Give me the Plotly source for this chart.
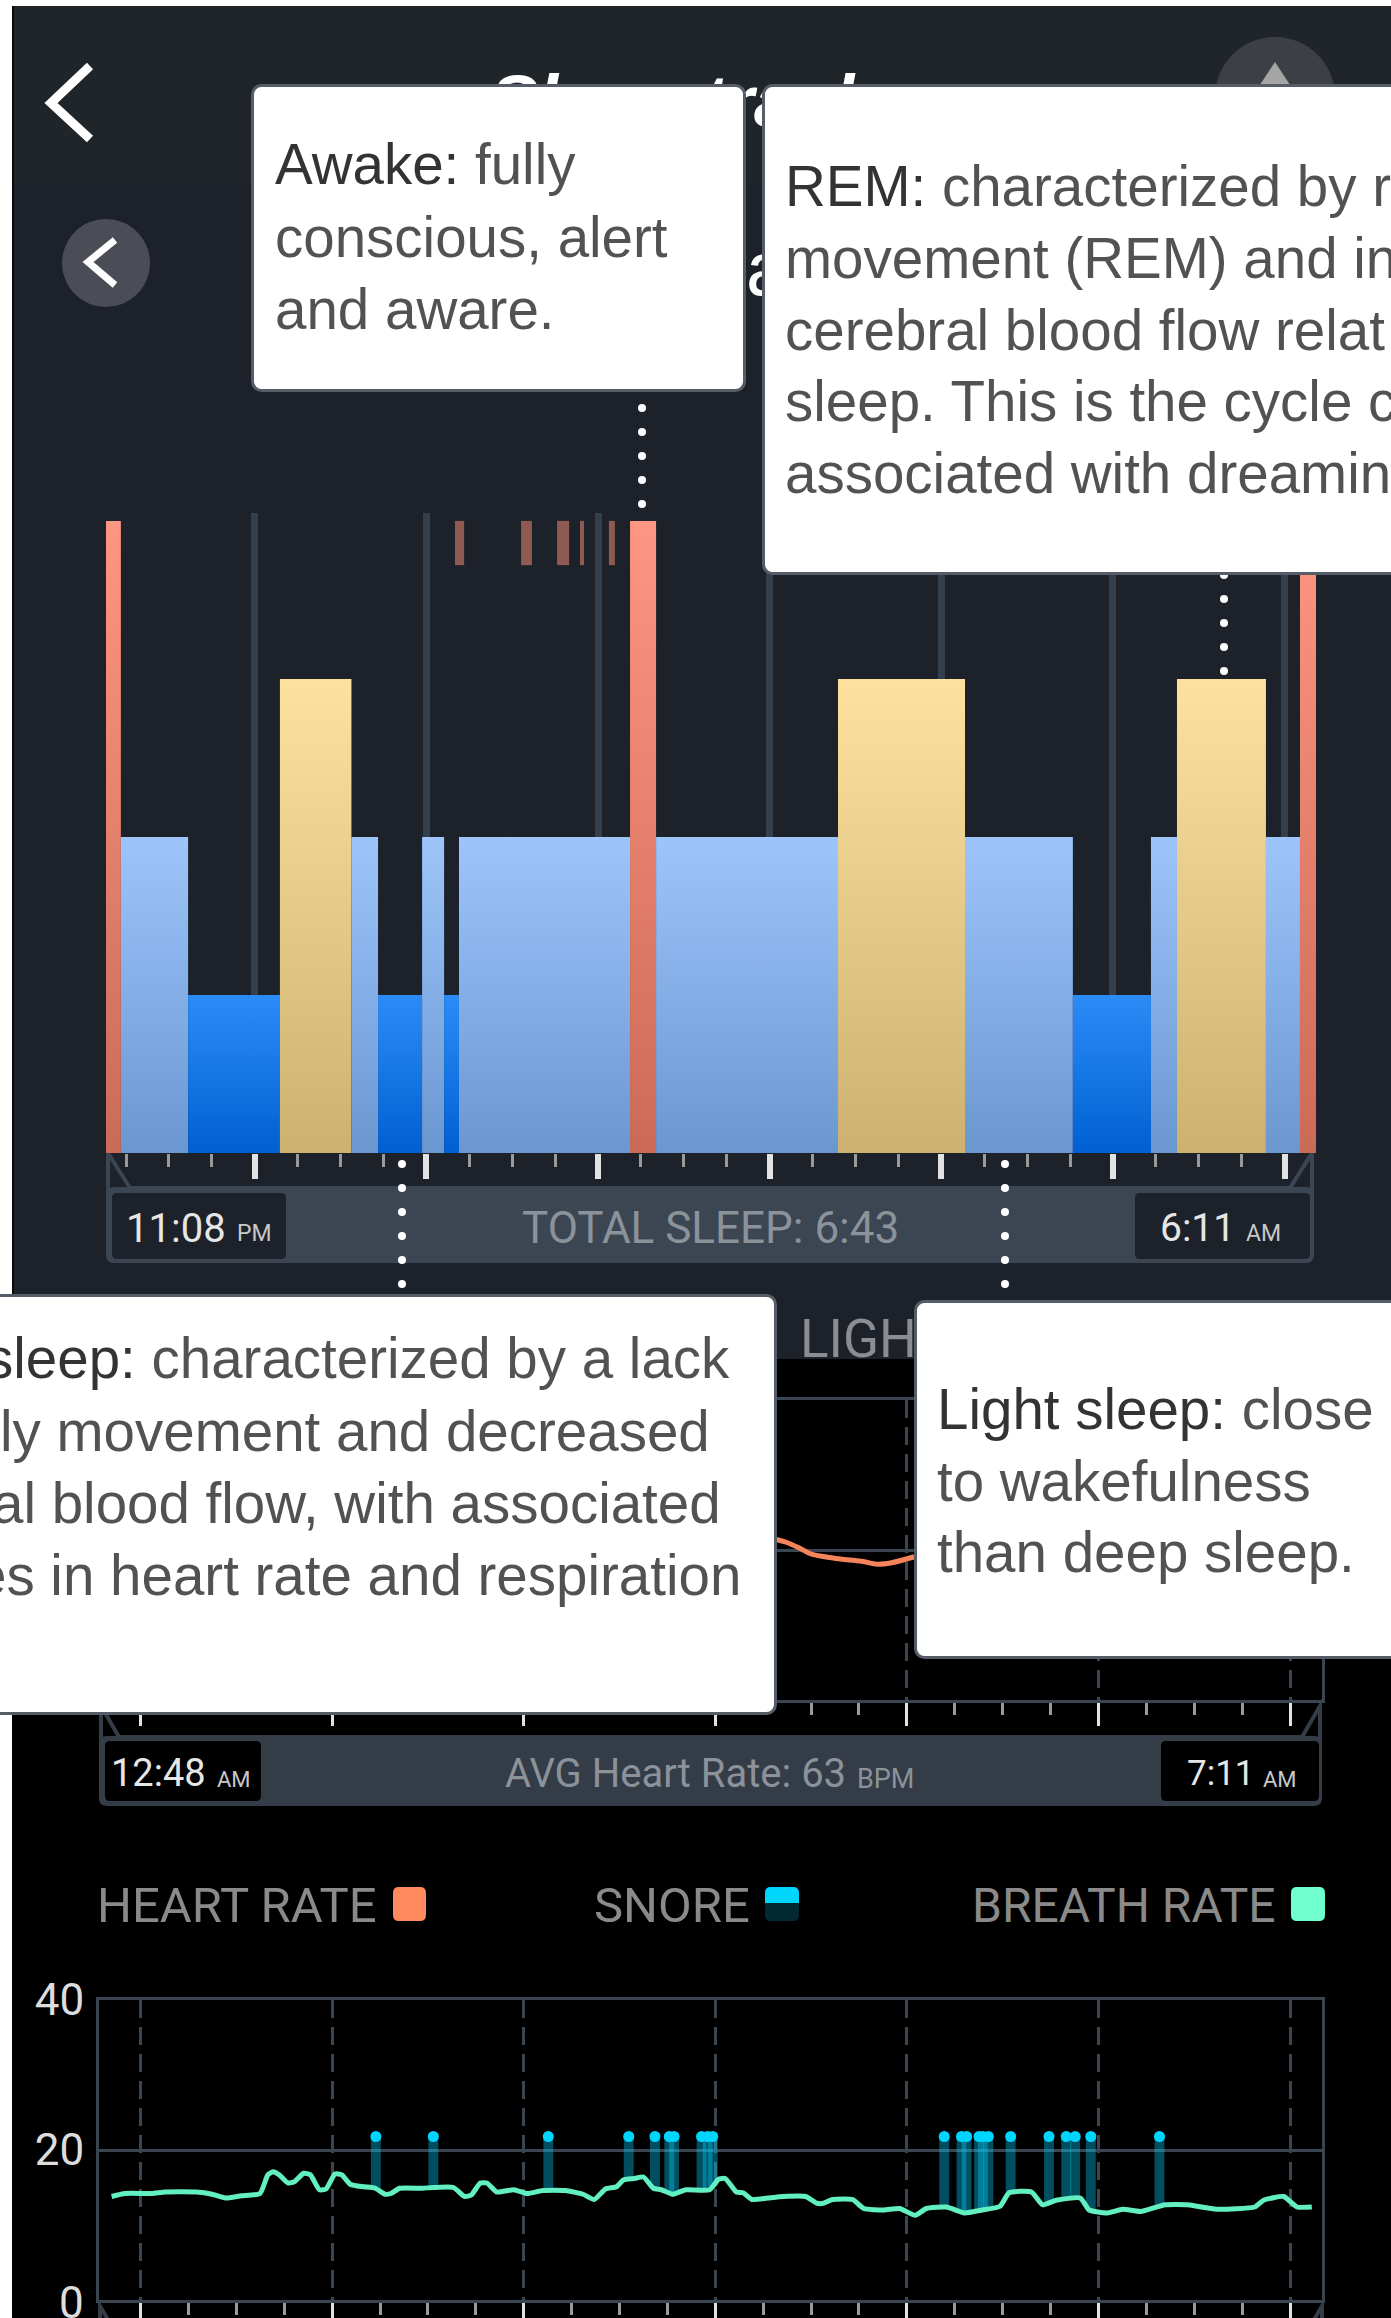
import numpy as np
import plotly.graph_objects as go

W, H = 1391, 2318

# ---------- DATA ----------
STAGE_LEVEL = {"Deep": 1, "Light": 2, "REM": 3, "Awake": 4}
sleep_stage = ["Awake", "Light", "Deep", "REM", "Light", "Deep", "Light", "Deep", "Light", "Awake",
               "Light", "REM", "Light", "Deep", "Light", "REM", "Light", "Awake"]
sleep_start = [0, 5.2, 28.7, 60.8, 85.8, 95.1, 110.5, 118.2, 123.4, 183.2,
               192.3, 255.9, 300.3, 338.0, 365.3, 374.4, 405.5, 417.4]
sleep_end = [5.2, 28.7, 60.8, 85.8, 95.1, 110.5, 118.2, 123.4, 183.2, 192.3,
             255.9, 300.3, 338.0, 365.3, 374.4, 405.5, 417.4, 423.0]
restless_start = [122.0, 145.1, 157.7, 165.7, 175.8]
restless_end = [125.2, 148.9, 161.9, 167.1, 177.9]
restless_low = [3.72, 3.72, 3.72, 3.72, 3.72]
restless_high = [4, 4, 4, 4, 4]
stage_top_colors = {"Deep": "#2b8cf8", "Light": "#9dc5fb", "REM": "#fde29f", "Awake": "#fd9682"}
stage_bottom_colors = {"Deep": "#0060d2", "Light": "#6b97d1", "REM": "#ccb26e", "Awake": "#cc6a58"}

heart_time = [211, 215.4, 219.6, 222.8, 227.3, 232.2, 238.8, 243.9, 248.2, 255.3]
heart_bpm = [61.5, 61.0, 60.2, 59.5, 59.1, 58.8, 58.5, 58.1, 58.3, 59.1]

breath_time = [3.95, 8.15, 16.5, 20.7, 30.5, 35.4, 39.6, 44.5, 50.4, 52.9, 54.6, 56.4, 59.2, 61.3, 64.1,
               66.2, 69.0, 71.1, 73.9, 76.0, 78.8, 83.0, 86.5, 89.6, 91.4, 94.2, 101.2, 104.7, 111.0,
               114.5, 116.6, 119.4, 121.5, 124.6, 129.9, 134.1, 139.0, 146.0, 151.6, 155.1, 158.6,
               162.1, 164.2, 167.7, 170.5, 173.6, 176.1, 179.6, 183.8, 191.2, 194.0, 196.1, 199.6,
               201.7, 204.5, 209.4, 214.3, 221.3, 224.8, 226.9, 229.7, 236.0, 239.5, 245.8, 250.7,
               255.6, 259.1, 265.4, 271.0, 276.6, 282.2, 285.0, 292.0, 295.5, 299.7, 307.3, 310.1,
               315.7, 320.6, 326.2, 333.9, 340.9, 350.0, 361.9, 364.7, 371.0, 375.2, 379.8]
breath_rate = [13.8, 14.2, 14.2, 14.4, 14.4, 14.1, 13.6, 13.9, 14.2, 16.7, 17.1, 16.7, 15.6, 15.8, 16.9,
               16.7, 14.7, 14.8, 16.8, 16.7, 15.4, 15.1, 14.9, 14.1, 14.2, 14.9, 14.9, 15.0, 15.0,
               13.8, 14.0, 15.6, 15.6, 14.4, 14.7, 14.2, 14.6, 14.6, 14.1, 13.4, 14.8,
               15.1, 16.0, 16.2, 16.4, 14.9, 14.7, 14.1, 14.7, 14.7, 16.1, 16.2, 14.4,
               14.3, 13.4, 13.6, 13.8, 13.8, 12.9, 12.9, 13.4, 13.4, 12.2, 12.0, 12.2,
               11.3, 12.2, 12.4, 11.6, 12.0, 12.5, 14.3, 14.4, 12.7, 13.3, 13.6, 12.0,
               11.6, 12.1, 11.8, 12.7, 12.7, 12.1, 12.4, 13.3, 13.8, 12.4, 12.4]
snore_time = [86.7, 104.7, 140.7, 165.9, 174.1, 178.6, 180.1, 188.7, 190.6, 192.2, 264.7, 270.1, 271.7,
              275.6, 276.8, 278.5, 285.5, 297.5, 302.9, 305.7, 310.6, 332.1]
snore_top = [21.8] * len(snore_time)

heart_yticks = [40, 60, 80]
heart_ylabels = ["40", "", ""]
breath_yticks = [0, 20, 40]
breath_ylabels = ["", "20", "40"]

# ---------- HELPERS ----------
GRID = "#3a4552"
FONT = "Roboto"
BOXFONT = "Liberation Sans"
px = lambda x: x / W
py = lambda y: 1 - y / H
shapes, anns = [], []


def rect(x0, y0, x1, y1, color, layer="below"):
    shapes.append(dict(type="rect", xref="paper", yref="paper", x0=px(x0), x1=px(x1), y0=py(y1), y1=py(y0),
                       fillcolor=color, line_width=0, layer=layer))


def rrect(x0, y0, x1, y1, r, color, layer="below"):
    X = lambda v: f"{px(v):.6f}"
    Y = lambda v: f"{py(v):.6f}"
    p = (f"M{X(x0+r)},{Y(y0)} L{X(x1-r)},{Y(y0)} Q{X(x1)},{Y(y0)} {X(x1)},{Y(y0+r)} L{X(x1)},{Y(y1-r)} "
         f"Q{X(x1)},{Y(y1)} {X(x1-r)},{Y(y1)} L{X(x0+r)},{Y(y1)} Q{X(x0)},{Y(y1)} {X(x0)},{Y(y1-r)} "
         f"L{X(x0)},{Y(y0+r)} Q{X(x0)},{Y(y0)} {X(x0+r)},{Y(y0)} Z")
    shapes.append(dict(type="path", xref="paper", yref="paper", path=p, fillcolor=color, line_width=0, layer=layer))


def poly(points, fill=None, line=None, width=0, layer="below", close=True):
    p = "M" + " L".join(f"{px(a):.6f},{py(b):.6f}" for a, b in points) + (" Z" if close else "")
    shapes.append(dict(type="path", xref="paper", yref="paper", path=p,
                       fillcolor=fill if fill else "rgba(0,0,0,0)",
                       line=dict(color=line if line else "rgba(0,0,0,0)", width=width), layer=layer))


def circle(cx, cy, rx, ry, color, layer="below"):
    shapes.append(dict(type="circle", xref="paper", yref="paper", x0=px(cx - rx), x1=px(cx + rx),
                       y0=py(cy + ry), y1=py(cy - ry), fillcolor=color, line_width=0, layer=layer))


def text(x, y, s, size, color, anchor="left", font=FONT, **kw):
    anns.append(dict(xref="paper", yref="paper", x=px(x), y=py(y), text=s, showarrow=False, xanchor=anchor,
                     yanchor="middle", align=anchor, font=dict(family=font, size=size, color=color), **kw))


def box(x0, y0, x1, y1):
    anns.append(dict(xref="paper", yref="paper", x=px(x0), y=py(y0), text=" ", showarrow=False, xanchor="left",
                     yanchor="top", width=x1 - x0 - 3, height=y1 - y0 - 3, bgcolor="#ffffff", bordercolor="#565d68",
                     borderwidth=3, borderpad=0, font=dict(size=10)))


stroke_w = 4


def footer(x0, x1, notch, y_axis, y_panel, y_bottom, color, stroke):
    rrect(x0, y_panel, x1, y_bottom, 8, color)
    poly([(x0 + 2, y_bottom - 8), (x0 + 2, y_axis), (x0 + notch, y_panel + 1), (x1 - notch, y_panel + 1),
          (x1 - 2, y_axis), (x1 - 2, y_bottom - 8)], line=stroke, width=stroke_w, close=False)


# ---------- BACKGROUND ----------
rect(12, 6, W, 1359, "#1d2129")
rect(12, 6, W, 184, "#20252a")
rect(12, 1359, W, H, "#000000")
rect(12, 6, 14, 1359, "#08090b")

# header icons
poly([(90, 66), (51, 103), (90, 139)], line="#ffffff", width=9, close=False)
circle(106, 263, 44, 44, "#4a4d55")
poly([(115, 240), (88, 262), (115, 285)], line="#ffffff", width=7, close=False)
circle(1275, 97, 60, 60, "#3c3f44")
poly([(1275, 62), (1250, 100), (1300, 100)], fill="#a5a5a5")

# footers behind the time axes
footer(106, 1314, 24, 1153, 1187, 1263, "#3c4652", "#3c4652")
rrect(112, 1193, 286, 1259, 5, "#1d2129")
rrect(1135, 1193, 1310, 1259, 5, "#1d2129")
footer(99, 1322, 20, 1706, 1736, 1806, "#343c47", "#343c47")
rrect(105, 1741, 261, 1801, 5, "#000000")
rrect(1161, 1741, 1319, 1801, 5, "#000000")
footer(98, 1324, 20, 2306, 2336, 2400, "#343c47", "#343c47")

# legend swatches
rrect(393, 1887, 426, 1921, 6, "#ff8a5e")
rrect(765, 1887, 799, 1921, 6, "#032a33")
rrect(765, 1887, 799, 1903, 6, "#00d5ff")
rect(765, 1896, 799, 1903, "#00d5ff")
rrect(1291, 1887, 1325, 1921, 6, "#6fffcf")

# dotted connectors
for cx, ys in [(642, [408, 432, 456, 480, 504]), (1224, [575, 599, 623, 647, 671]),
               (402, [1164, 1188, 1212, 1236, 1260, 1284]), (1005, [1164, 1188, 1212, 1236, 1260, 1284])]:
    for cy in ys:
        circle(cx, cy, 4, 4, "#ffffff", layer="above")

# ---------- TRACES ----------
fig = go.Figure()
for stage, a, b in zip(sleep_stage, sleep_start, sleep_end):
    lvl = STAGE_LEVEL[stage]
    fig.add_trace(go.Scatter(
        x=[a, b, b, a, a], y=[0, 0, lvl, lvl, 0], mode="lines", fill="toself", line=dict(width=0),
        fillgradient=dict(type="vertical", start=0, stop=lvl,
                          colorscale=[[0, stage_bottom_colors[stage]], [1, stage_top_colors[stage]]]),
        name=stage, showlegend=False, hoverinfo="skip", xaxis="x", yaxis="y"))
for a, b, lo, hi in zip(restless_start, restless_end, restless_low, restless_high):
    fig.add_trace(go.Bar(x=[(a + b) / 2], y=[hi - lo], base=[lo], width=[b - a], marker_color="#8f5a52",
                         marker_line_width=0, showlegend=False, hoverinfo="skip", xaxis="x", yaxis="y"))

fig.add_trace(go.Scatter(x=heart_time, y=heart_bpm, mode="lines", line=dict(color="#f5845a", width=5, shape="spline"),
                         showlegend=False, hoverinfo="skip", xaxis="x2", yaxis="y2"))

snore_base = np.interp(snore_time, breath_time, breath_rate)
fig.add_trace(go.Bar(x=snore_time, y=np.array(snore_top) - snore_base, base=snore_base, width=3.1,
                     marker_color="rgba(0,205,250,0.38)", marker_line_width=0, showlegend=False,
                     hoverinfo="skip", xaxis="x3", yaxis="y3"))
fig.add_trace(go.Scatter(x=snore_time, y=snore_top, mode="markers", marker=dict(color="#00d5ff", size=11),
                         showlegend=False, hoverinfo="skip", xaxis="x3", yaxis="y3"))
fig.add_trace(go.Scatter(x=breath_time, y=breath_rate, mode="lines",
                         line=dict(color="#62f0c2", width=5, shape="spline", smoothing=0.5),
                         showlegend=False, hoverinfo="skip", xaxis="x3", yaxis="y3"))

# ---------- TEXT BEHIND THE CALLOUTS ----------
text(488, 101, "<b><i>Sleep tracker</i></b>", 72, "#ffffff", font="Liberation Sans")
text(744, 268, "a", 76, "#ffffff", font="Liberation Sans")
text(798, 1339, "LIGHT SLEEP", 53, "#8a8d92")
text(95, 1905, "HEART RATE", 49, "#8a8a8a")
text(592, 1905, "SNORE", 49, "#8a8a8a")
text(970, 1905, "BREATH RATE", 48, "#8a8a8a")
text(86, 2303, "0", 44, "#dddddd", anchor="right")

text(124, 1228, "11:08", 40, "#e6e6e6")
text(235, 1233, "PM", 23, "#c8c8c8")
text(710, 1228, "TOTAL SLEEP: 6:43", 44, "#8b929a", anchor="center")
text(1158, 1228, "6:11", 39, "#e6e6e6")
text(1244, 1233, "AM", 23, "#c8c8c8")
text(109, 1773, "12:48", 38, "#e6e6e6")
text(215, 1779, "AM", 22, "#c8c8c8")
text(503, 1773, "AVG Heart Rate: 63", 40, "#8b929a")
text(855, 1779, "BPM", 27, "#8b929a")
text(1185, 1773, "7:11", 35, "#e6e6e6")
text(1261, 1779, "AM", 22, "#c8c8c8")

# ---------- CALLOUTS ----------
INK, SOFT = "#333333", "#525252"
FS = 56.5
box(251, 84, 743, 389)
text(273, 165, "<span style='color:%s'>Awake:</span> fully" % INK, FS, SOFT, font=BOXFONT)
text(273, 238, "conscious, alert", FS, SOFT, font=BOXFONT)
text(273, 310, "and aware.", FS, SOFT, font=BOXFONT)

box(762, 84, 1410, 572)
for y, s in zip([186, 258, 330, 402, 474],
                ["<span style='color:%s'>REM:</span> characterized by r" % INK, "movement (REM) and in",
                 "cerebral blood flow relat", "sleep. This is the cycle c", "associated with dreamin"]):
    text(783, y, s, FS, SOFT, font=BOXFONT)

box(-20, 1294, 774, 1712)
for y, r, s in zip([1359, 1431, 1503, 1575], [732, 712, 723, 743],
                   ["<span style='color:%s'>sleep:</span> characterized by a lack" % INK, "ly movement and decreased",
                    "al blood flow, with associated", "es in heart rate and respiration"]):
    text(r, y, s, FS, SOFT, anchor="right", font=BOXFONT)

box(914, 1300, 1410, 1656)
text(935, 1409, "<span style='color:%s'>Light sleep:</span> close" % INK, FS, SOFT, font=BOXFONT)
text(935, 1481, "to wakefulness", FS, SOFT, font=BOXFONT)
text(935, 1552, "than deep sleep.", FS, SOFT, font=BOXFONT)


# ---------- AXES ----------
def time_axis(x0, x1, rng, major0, minor0, gridwidth, griddash, domain_line, majorlen, minorlen, majorw, minorw, y):
    return dict(domain=[px(x0), px(x1)], range=rng, anchor=y, tickmode="linear", tick0=major0, dtick=60,
                ticks="outside", ticklen=majorlen, tickwidth=majorw, tickcolor="#e2e2e2", showticklabels=False,
                showgrid=True, gridcolor="#333f4d" if griddash == "solid" else GRID, gridwidth=gridwidth,
                griddash=griddash, zeroline=False,
                minor=dict(tick0=minor0, dtick=15, ticks="outside", ticklen=minorlen, tickwidth=minorw,
                           tickcolor="#9a9a9a", showgrid=False),
                **domain_line)


frame = dict(showline=True, linecolor=GRID, linewidth=3, mirror=True)
DASH = "18px,9px"

fig.update_layout(
    width=W, height=H, margin=dict(l=0, r=0, t=0, b=0, autoexpand=False), paper_bgcolor="#ffffff",
    plot_bgcolor="rgba(0,0,0,0)", showlegend=False, barmode="overlay", shapes=shapes, annotations=anns,
    xaxis=time_axis(106, 1316, [0, 423], 52, 7, 7, "solid", dict(showline=False), 25, 13, 6, 3, "y"),
    yaxis=dict(domain=[py(1153), py(513)], range=[0, 4.05], showgrid=False, zeroline=False, showticklabels=False,
               ticks="", anchor="x"),
    xaxis2=time_axis(99, 1322, [0, 383], 13, 13, 3, DASH, frame, 23, 12, 3, 3, "y2"),
    yaxis2=dict(domain=[py(1700), py(1400)], range=[40, 80], tickvals=heart_yticks, ticktext=heart_ylabels,
                showgrid=True, gridcolor=GRID, gridwidth=3, zeroline=False, ticks="", anchor="x2",
                tickfont=dict(family=FONT, size=44, color="#dddddd"), ticklabelstandoff=3, **frame),
    xaxis3=time_axis(99, 1322, [0, 383], 13, 13, 3, DASH, frame, 23, 12, 3, 3, "y3"),
    yaxis3=dict(domain=[py(2300), py(2000)], range=[0, 40], tickvals=breath_yticks, ticktext=breath_ylabels,
                showgrid=True, gridcolor=GRID, gridwidth=3, zeroline=False, ticks="", anchor="x3",
                tickfont=dict(family=FONT, size=44, color="#dddddd"), ticklabelstandoff=3, **frame),
)

post = """
document.body.style.margin='0';
document.documentElement.style.overflow='hidden';
document.querySelectorAll('.annotation rect.bg').forEach(function(r){
  if (parseFloat(r.getAttribute('width'))>200){ r.setAttribute('rx','9'); r.setAttribute('ry','9'); }
});
"""
fig.write_html("out.html", post_script=post, config=dict(displayModeBar=False))
